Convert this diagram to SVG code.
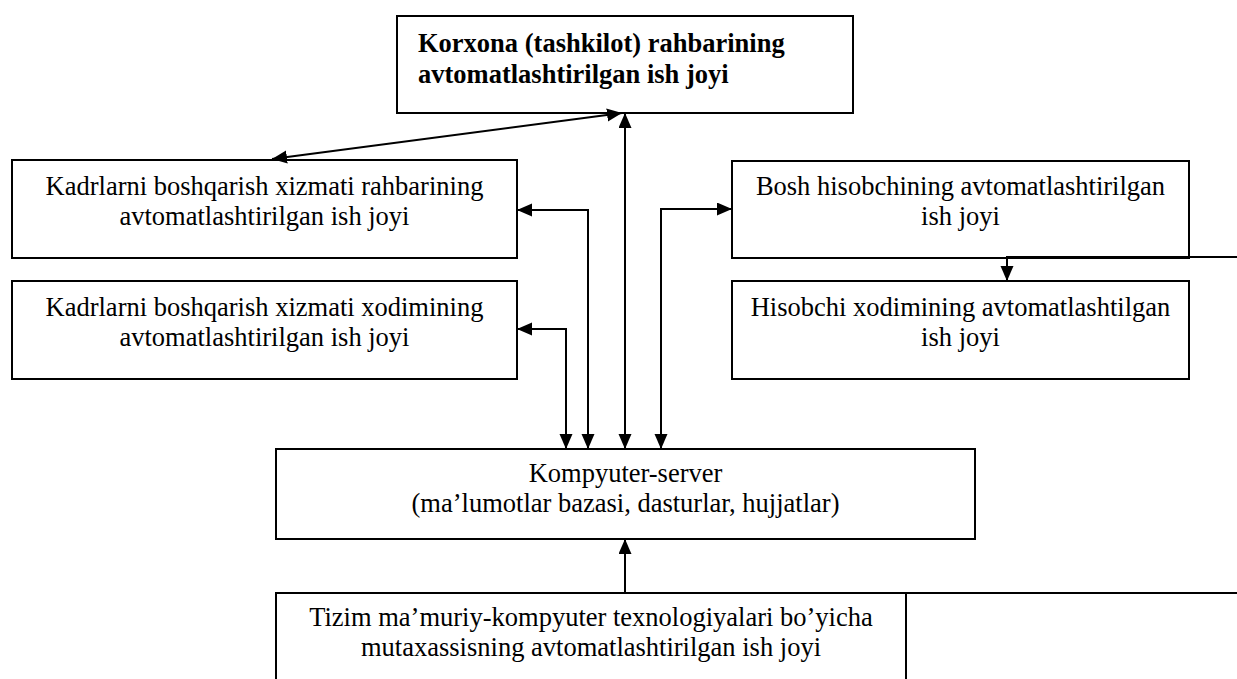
<svg xmlns="http://www.w3.org/2000/svg" width="1237" height="679" viewBox="0 0 1237 679">
  <style>
    .box { fill: #ffffff; stroke: #000000; stroke-width: 2; }
    .lbl { font-size: 26.5px; fill: #000000; text-anchor: middle; }
    .bold { font-weight: bold; text-anchor: start; }
    .wire { fill: none; stroke: #000000; stroke-width: 2; }
  </style>
  <defs>
    <marker id="arrow" markerUnits="userSpaceOnUse" markerWidth="16" markerHeight="14" refX="15" refY="6.5" orient="auto-start-reverse">
      <path d="M0,0 L15,6.5 L0,13 z" fill="#000000"/>
    </marker>
  </defs>

  <rect width="1237" height="679" fill="#ffffff"/>

  <g font-family="Liberation Serif, DejaVu Serif, serif">
    <g id="rahbar">
      <rect class="box" x="397" y="16" width="456" height="97"/>
      <text class="lbl bold" x="418" y="52">Korxona (tashkilot) rahbarining</text>
      <text class="lbl bold" x="418" y="83">avtomatlashtirilgan ish joyi</text>
    </g>

    <g id="kadr-rahbar">
      <rect class="box" x="12" y="160" width="505" height="98"/>
      <text class="lbl" x="264.5" y="195">Kadrlarni boshqarish xizmati rahbarining</text>
      <text class="lbl" x="264.5" y="225">avtomatlashtirilgan ish joyi</text>
    </g>

    <g id="kadr-xodim">
      <rect class="box" x="12" y="281" width="505" height="98"/>
      <text class="lbl" x="264.5" y="316">Kadrlarni boshqarish xizmati xodimining</text>
      <text class="lbl" x="264.5" y="346">avtomatlashtirilgan ish joyi</text>
    </g>

    <g id="bosh-hisobchi">
      <rect class="box" x="732" y="161" width="457" height="97"/>
      <text class="lbl" x="960.5" y="195">Bosh hisobchining avtomatlashtirilgan</text>
      <text class="lbl" x="960.5" y="225">ish joyi</text>
    </g>

    <g id="hisobchi-xodim">
      <rect class="box" x="732" y="281" width="457" height="98"/>
      <text class="lbl" x="960.5" y="316">Hisobchi xodimining avtomatlashtilgan</text>
      <text class="lbl" x="960.5" y="346">ish joyi</text>
    </g>

    <g id="server">
      <rect class="box" x="276" y="449" width="699" height="90"/>
      <text class="lbl" x="625.5" y="482">Kompyuter-server</text>
      <text class="lbl" x="625.5" y="512">(ma’lumotlar bazasi, dasturlar, hujjatlar)</text>
    </g>

    <g id="tizim-mutaxassis">
      <rect class="box" x="276" y="593" width="630" height="100"/>
      <text class="lbl" x="591" y="626">Tizim ma’muriy-kompyuter texnologiyalari bo’yicha</text>
      <text class="lbl" x="591" y="656">mutaxassisning avtomatlashtirilgan ish joyi</text>
    </g>
  </g>

  <g id="connectors">
    <path class="wire" d="M272,159 L622,113" marker-start="url(#arrow)" marker-end="url(#arrow)"/>
    <path class="wire" d="M625,113 V449" marker-start="url(#arrow)" marker-end="url(#arrow)"/>
    <path class="wire" d="M517,210 H588 V449" marker-start="url(#arrow)" marker-end="url(#arrow)"/>
    <path class="wire" d="M517,329 H566 V449" marker-start="url(#arrow)" marker-end="url(#arrow)"/>
    <path class="wire" d="M732,209 H661 V449" marker-start="url(#arrow)" marker-end="url(#arrow)"/>
    <path class="wire" d="M1237,257 H1007 V281" marker-end="url(#arrow)"/>
    <path class="wire" d="M1237,593 H625 V539" stroke-width="2.5" marker-end="url(#arrow)"/>
  </g>
</svg>
